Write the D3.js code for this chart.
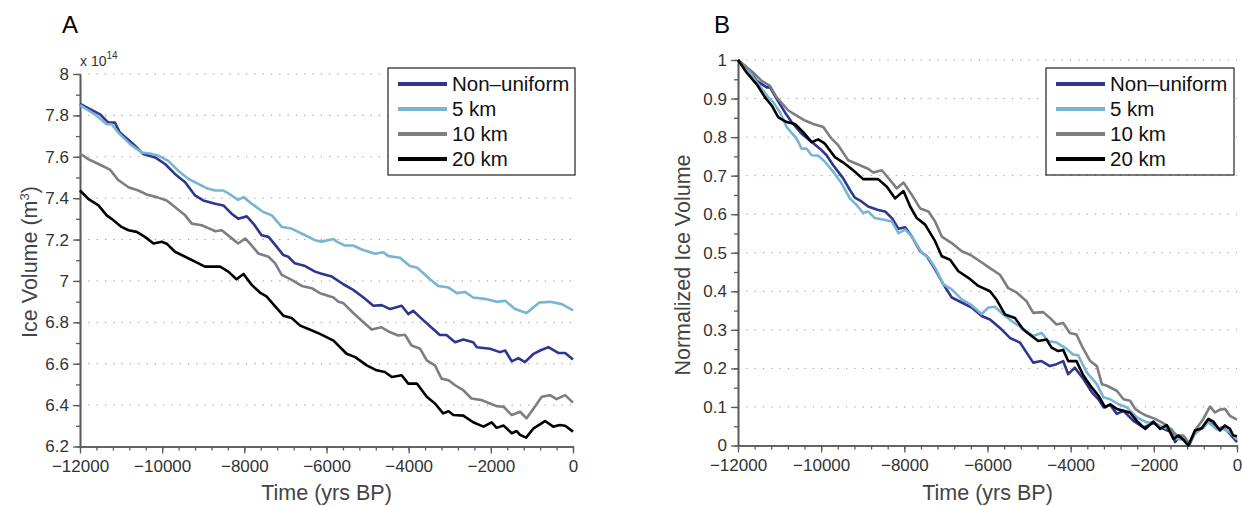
<!DOCTYPE html>
<html>
<head>
<meta charset="utf-8">
<script src="https://cdn.jsdelivr.net/npm/d3@7"></script>
<style>
  body { margin: 0; background: #fff; }
  text { font-family: "Liberation Sans", Arial, Helvetica, sans-serif; }
</style>
</head>
<body>
<script>
// ---- data: [year BP, value] ----
var seriesNames = ["Non\u2013uniform", "5 km", "10 km", "20 km"];
var seriesColors = ["#2e3690", "#77b5d3", "#7b7e83", "#000000"];

var xTicks = [-12000, -10000, -8000, -6000, -4000, -2000, 0];
var yTicksA = [6.2, 6.4, 6.6, 6.8, 7, 7.2, 7.4, 7.6, 7.8, 8];
var yTicksB = [0, 0.1, 0.2, 0.3, 0.4, 0.5, 0.6, 0.7, 0.8, 0.9, 1];

// panel A, ice volume (x 10^14 m^3)
var volNonUniform = [[-12000,7.856],[-11510,7.805],[-11310,7.765],[-11150,7.765],[-11030,7.717],[-10700,7.661],[-10460,7.613],[-10170,7.597],[-9930,7.565],[-9690,7.517],[-9440,7.477],[-9200,7.413],[-9000,7.389],[-8710,7.373],[-8510,7.365],[-8310,7.325],[-8150,7.301],[-7940,7.312],[-7780,7.277],[-7580,7.221],[-7410,7.213],[-7210,7.165],[-7050,7.125],[-6930,7.117],[-6770,7.085],[-6520,7.072],[-6280,7.045],[-6120,7.035],[-5870,7.021],[-5590,6.984],[-5350,6.957],[-5100,6.92],[-4860,6.88],[-4660,6.883],[-4450,6.864],[-4170,6.88],[-4010,6.84],[-3890,6.856],[-3720,6.824],[-3480,6.781],[-3240,6.739],[-3080,6.739],[-2870,6.704],[-2670,6.717],[-2430,6.704],[-2340,6.68],[-2020,6.672],[-1780,6.656],[-1650,6.664],[-1490,6.611],[-1330,6.627],[-1170,6.608],[-960,6.648],[-800,6.664],[-600,6.68],[-360,6.652],[-190,6.652],[0,6.62]];
var vol5km = [[-12000,7.85],[-11640,7.805],[-11350,7.757],[-11230,7.757],[-11070,7.717],[-10780,7.661],[-10500,7.621],[-10300,7.616],[-10090,7.605],[-9930,7.589],[-9850,7.58],[-9610,7.533],[-9360,7.493],[-9200,7.477],[-9040,7.461],[-8880,7.445],[-8710,7.437],[-8510,7.437],[-8310,7.413],[-8150,7.392],[-8020,7.405],[-7820,7.373],[-7540,7.333],[-7330,7.317],[-7090,7.261],[-6850,7.253],[-6520,7.221],[-6280,7.197],[-6120,7.19],[-5830,7.203],[-5750,7.19],[-5550,7.171],[-5350,7.171],[-5140,7.152],[-4820,7.131],[-4620,7.139],[-4490,7.12],[-4210,7.112],[-3970,7.072],[-3800,7.065],[-3640,7.037],[-3480,7.008],[-3280,6.976],[-3030,6.968],[-2830,6.941],[-2630,6.947],[-2430,6.92],[-2100,6.912],[-1860,6.899],[-1650,6.904],[-1410,6.864],[-1130,6.845],[-820,6.896],[-560,6.899],[-270,6.888],[0,6.858]];
var vol10km = [[-12000,7.616],[-11800,7.589],[-11550,7.565],[-11270,7.538],[-11070,7.488],[-10820,7.453],[-10580,7.437],[-10380,7.418],[-10130,7.405],[-9890,7.389],[-9690,7.357],[-9440,7.317],[-9280,7.277],[-9040,7.269],[-8790,7.248],[-8710,7.24],[-8550,7.245],[-8350,7.213],[-8150,7.181],[-7980,7.205],[-7860,7.18],[-7660,7.133],[-7410,7.117],[-7250,7.085],[-7090,7.029],[-6850,7.005],[-6600,6.976],[-6360,6.965],[-6160,6.941],[-5830,6.92],[-5710,6.9],[-5590,6.893],[-5350,6.845],[-5100,6.8],[-4900,6.765],[-4660,6.776],[-4450,6.752],[-4250,6.736],[-4090,6.74],[-3930,6.688],[-3720,6.672],[-3560,6.616],[-3360,6.592],[-3200,6.528],[-3030,6.52],[-2870,6.496],[-2670,6.472],[-2470,6.432],[-2220,6.424],[-2020,6.408],[-1860,6.395],[-1690,6.392],[-1490,6.352],[-1290,6.368],[-1130,6.336],[-960,6.384],[-760,6.44],[-560,6.448],[-400,6.429],[-190,6.448],[0,6.412]];
var vol20km = [[-12000,7.437],[-11800,7.397],[-11550,7.365],[-11350,7.317],[-11230,7.3],[-10990,7.261],[-10820,7.245],[-10620,7.237],[-10420,7.213],[-10210,7.181],[-10010,7.189],[-9890,7.18],[-9690,7.141],[-9440,7.117],[-9200,7.093],[-8960,7.069],[-8590,7.069],[-8390,7.045],[-8190,7.008],[-8020,7.034],[-7820,6.981],[-7620,6.944],[-7460,6.925],[-7250,6.877],[-7050,6.832],[-6850,6.821],[-6640,6.784],[-6440,6.768],[-6160,6.744],[-5830,6.712],[-5510,6.648],[-5300,6.632],[-5020,6.592],[-4780,6.568],[-4580,6.56],[-4410,6.536],[-4170,6.544],[-4010,6.504],[-3800,6.504],[-3560,6.44],[-3360,6.408],[-3160,6.36],[-3030,6.37],[-2910,6.352],[-2670,6.349],[-2430,6.317],[-2180,6.296],[-1980,6.317],[-1860,6.29],[-1690,6.301],[-1490,6.264],[-1370,6.275],[-1290,6.256],[-1140,6.243],[-960,6.288],[-680,6.323],[-480,6.296],[-320,6.304],[-190,6.3],[0,6.272]];

// panel B, normalized ice volume
var normNonUniform = [[-12000,1.0],[-11750,0.976],[-11550,0.946],[-11310,0.929],[-11230,0.929],[-11070,0.899],[-10870,0.864],[-10710,0.839],[-10470,0.809],[-10270,0.791],[-10030,0.77],[-9870,0.753],[-9710,0.727],[-9470,0.693],[-9310,0.663],[-9190,0.643],[-9030,0.633],[-8870,0.62],[-8630,0.611],[-8460,0.607],[-8300,0.59],[-8140,0.562],[-7980,0.566],[-7820,0.542],[-7620,0.504],[-7460,0.491],[-7260,0.457],[-7060,0.418],[-6860,0.384],[-6620,0.371],[-6380,0.358],[-6140,0.336],[-5940,0.327],[-5700,0.305],[-5460,0.279],[-5220,0.267],[-5060,0.241],[-4900,0.215],[-4700,0.219],[-4500,0.206],[-4340,0.211],[-4180,0.219],[-4060,0.185],[-3900,0.202],[-3690,0.172],[-3490,0.138],[-3330,0.12],[-3210,0.099],[-3050,0.105],[-2890,0.082],[-2730,0.09],[-2490,0.064],[-2250,0.047],[-2010,0.058],[-1770,0.043],[-1570,0.034],[-1490,0.009],[-1370,0.024],[-1170,0.0],[-1010,0.034],[-810,0.047],[-690,0.064],[-490,0.043],[-330,0.047],[-170,0.03],[0,0.009]];
var norm5km = [[-12000,1.0],[-11710,0.967],[-11500,0.935],[-11270,0.903],[-11150,0.89],[-10990,0.864],[-10830,0.826],[-10590,0.796],[-10470,0.77],[-10350,0.77],[-10230,0.753],[-10070,0.752],[-9910,0.736],[-9710,0.71],[-9510,0.68],[-9310,0.641],[-9150,0.624],[-8990,0.603],[-8870,0.607],[-8710,0.59],[-8460,0.585],[-8300,0.581],[-8140,0.551],[-7980,0.56],[-7820,0.542],[-7580,0.5],[-7420,0.487],[-7260,0.461],[-7060,0.418],[-6860,0.405],[-6620,0.379],[-6420,0.367],[-6140,0.341],[-5980,0.358],[-5820,0.36],[-5620,0.34],[-5420,0.323],[-5180,0.305],[-4900,0.284],[-4700,0.292],[-4540,0.271],[-4340,0.267],[-4140,0.254],[-3940,0.236],[-3820,0.234],[-3610,0.189],[-3370,0.159],[-3210,0.125],[-3050,0.12],[-2850,0.107],[-2650,0.099],[-2410,0.073],[-2170,0.06],[-1970,0.058],[-1770,0.047],[-1570,0.043],[-1450,0.017],[-1290,0.015],[-1170,0.0],[-1010,0.03],[-850,0.045],[-690,0.06],[-490,0.043],[-330,0.043],[-170,0.034],[0,0.015]];
var norm10km = [[-12000,1.0],[-11630,0.967],[-11430,0.946],[-11230,0.933],[-11070,0.903],[-10790,0.869],[-10590,0.856],[-10390,0.843],[-10190,0.834],[-9950,0.826],[-9750,0.796],[-9590,0.779],[-9350,0.74],[-9070,0.727],[-8870,0.718],[-8750,0.708],[-8540,0.714],[-8340,0.688],[-8180,0.667],[-8020,0.682],[-7820,0.65],[-7620,0.615],[-7420,0.607],[-7260,0.581],[-7100,0.542],[-6860,0.525],[-6620,0.504],[-6420,0.495],[-6180,0.478],[-5940,0.46],[-5700,0.443],[-5500,0.408],[-5300,0.397],[-5060,0.374],[-4900,0.344],[-4660,0.346],[-4500,0.331],[-4340,0.314],[-4180,0.318],[-4020,0.292],[-3860,0.288],[-3730,0.258],[-3530,0.219],[-3370,0.206],[-3250,0.159],[-3130,0.155],[-2890,0.142],[-2730,0.12],[-2570,0.116],[-2450,0.095],[-2330,0.086],[-2170,0.077],[-1970,0.069],[-1810,0.06],[-1690,0.052],[-1450,0.026],[-1290,0.026],[-1130,0.004],[-1010,0.039],[-810,0.069],[-650,0.101],[-530,0.086],[-410,0.093],[-290,0.095],[-170,0.077],[0,0.067]];
var norm20km = [[-12000,1.0],[-11790,0.967],[-11550,0.937],[-11350,0.903],[-11190,0.882],[-11030,0.851],[-10830,0.839],[-10630,0.834],[-10430,0.813],[-10230,0.787],[-10070,0.794],[-9910,0.783],[-9670,0.748],[-9430,0.731],[-9230,0.714],[-8990,0.691],[-8630,0.691],[-8420,0.671],[-8220,0.641],[-8020,0.66],[-7860,0.62],[-7700,0.59],[-7500,0.573],[-7260,0.53],[-7100,0.491],[-6900,0.482],[-6700,0.452],[-6460,0.435],[-6220,0.414],[-5940,0.4],[-5780,0.378],[-5580,0.34],[-5340,0.331],[-5140,0.301],[-4940,0.284],[-4780,0.271],[-4580,0.275],[-4460,0.254],[-4300,0.245],[-4180,0.248],[-4060,0.219],[-3860,0.219],[-3690,0.181],[-3490,0.15],[-3330,0.129],[-3170,0.099],[-3050,0.107],[-2890,0.095],[-2730,0.09],[-2570,0.085],[-2410,0.064],[-2210,0.043],[-2010,0.062],[-1850,0.043],[-1690,0.053],[-1530,0.017],[-1410,0.026],[-1290,0.015],[-1170,0.0],[-1010,0.039],[-850,0.045],[-690,0.069],[-570,0.062],[-410,0.039],[-290,0.052],[-170,0.043],[-90,0.026],[0,0.024]];

var svg = d3.select("body").append("svg")
    .attr("width", 1242).attr("height", 506);

var axisCol = "#5a5a5a", labelCol = "#333";

function drawPanel(opt) {
    var x = d3.scaleLinear().domain([-12000, 0]).range([opt.left, opt.right]);
    var y = d3.scaleLinear().domain(opt.ydom).range([opt.bottom, opt.top]);
    var g = svg.append("g");

    // dotted grid at major y ticks
    g.selectAll("line.grid")
        .data(opt.yticks.filter((d) => d != opt.ydom[0]))
        .enter().append("line")
        .attr("x1", opt.left).attr("x2", opt.right)
        .attr("y1", (d) => y(d)).attr("y2", (d) => y(d))
        .attr("stroke", "#999").attr("stroke-width", 1)
        .attr("stroke-dasharray", "1.3,7");

    // minor ticks
    var gxm = g.append("g").attr("transform", "translate(0," + opt.bottom + ")")
        .call(d3.axisBottom(x).tickValues(d3.range(-12000, 1, 400)).tickSize(4).tickFormat("").tickSizeOuter(0));
    var gym = g.append("g").attr("transform", "translate(" + opt.left + ",0)")
        .call(d3.axisLeft(y).tickValues(opt.minor).tickSize(4).tickFormat("").tickSizeOuter(0));

    // major ticks
    var gx = g.append("g").attr("transform", "translate(0," + opt.bottom + ")")
        .call(d3.axisBottom(x).tickValues(xTicks).tickSize(7).tickPadding(6).tickFormat(d3.format("d")).tickSizeOuter(0));
    var gy = g.append("g").attr("transform", "translate(" + opt.left + ",0)")
        .call(d3.axisLeft(y).tickValues(opt.yticks).tickSize(7).tickPadding(4).tickFormat(d3.format("~g")).tickSizeOuter(0));

    [gxm, gym, gx, gy].forEach((a) => {
        a.selectAll("path,line").attr("stroke", axisCol).attr("stroke-width", 1.3);
        a.select(".domain").attr("stroke-width", 1.6);
        a.selectAll("text").attr("fill", labelCol).attr("font-size", 17)
            .style("font-family", "'Liberation Sans', Arial, sans-serif");
    });

    // lines
    var line = d3.line().x((d) => x(d[0])).y((d) => y(d[1]));
    opt.series.forEach((s, i) => {
        g.append("path").datum(s)
            .attr("d", line)
            .attr("fill", "none")
            .attr("stroke", seriesColors[i])
            .attr("stroke-width", 2.6)
            .attr("stroke-linejoin", "round");
    });

    // axis titles
    g.append("text")
        .attr("x", (opt.left + opt.right) / 2).attr("y", 500)
        .attr("text-anchor", "middle").attr("font-size", 21.5).attr("fill", "#444")
        .text("Time (yrs BP)");

    var yl = g.append("text")
        .attr("transform", "translate(" + opt.ylabX + "," + opt.ylabY + ") rotate(-90)")
        .attr("text-anchor", "middle").attr("font-size", 21.5).attr("fill", "#444");
    if (opt.sup) {
        yl.append("tspan").text("Ice Volume (m");
        yl.append("tspan").attr("font-size", 13).attr("dy", -8).text("3");
        yl.append("tspan").attr("dy", 8).text(")");
    } else {
        yl.text(opt.ylabel);
    }

    // panel letter
    svg.append("text").attr("x", opt.letterX).attr("y", 33)
        .attr("font-size", 24).attr("fill", "#000").text(opt.letter);

    // legend
    var lg = g.append("g").attr("transform", "translate(" + opt.legX + "," + opt.legY + ")");
    lg.append("rect").attr("width", opt.legW).attr("height", 107)
        .attr("fill", "#fff").attr("stroke", "#222").attr("stroke-width", 1.2);
    seriesNames.forEach((n, i) => {
        var yy = 16 + i * 25;
        lg.append("line").attr("x1", 10).attr("x2", 59).attr("y1", yy).attr("y2", yy)
            .attr("stroke", seriesColors[i]).attr("stroke-width", 4);
        lg.append("text").attr("x", 64).attr("y", yy + 7)
            .attr("font-size", 20.5).attr("fill", "#111").text(n);
    });
    return g;
}

var gA = drawPanel({
    left: 80, right: 573, top: 74, bottom: 446.5,
    ydom: [6.2, 8], yticks: yTicksA,
    minor: d3.range(0, 19).map((i) => 6.2 + i * 0.1),
    series: [volNonUniform, vol5km, vol10km, vol20km],
    ylabX: 37, ylabY: 262, sup: true,
    letter: "A", letterX: 62,
    legX: 388, legY: 68, legW: 187
});
// exponent label above the y axis
var ex = gA.append("text").attr("x", 80).attr("y", 66).attr("font-size", 14).attr("fill", labelCol);
ex.append("tspan").text("x 10");
ex.append("tspan").attr("font-size", 10).attr("dy", -7).text("14");

drawPanel({
    left: 738, right: 1237, top: 60, bottom: 445.5,
    ydom: [0, 1], yticks: yTicksB,
    minor: d3.range(0, 21).map((i) => i * 0.05),
    series: [normNonUniform, norm5km, norm10km, norm20km],
    ylabX: 690, ylabY: 265, ylabel: "Normalized Ice Volume",
    letter: "B", letterX: 714,
    legX: 1046, legY: 68, legW: 188
});
</script>
</body>
</html>
